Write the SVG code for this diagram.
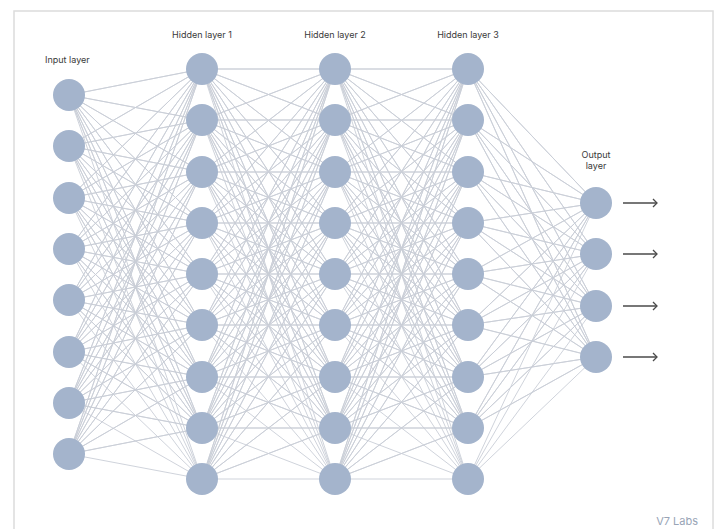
<svg xmlns="http://www.w3.org/2000/svg" xmlns:xlink="http://www.w3.org/1999/xlink" width="721" height="529" viewBox="0 0 721 529">
<style>
.lbl{font-family:Inter,"Liberation Sans",sans-serif;font-size:9px;fill:#3a3a3a}
.conn{fill:none;stroke:#c9ced7;stroke-width:0.9}
.node{fill:#a4b4cc}
.arr{stroke:#4a4a4a;stroke-width:1.3;fill:none}
</style>
<defs>
<marker id="ah" viewBox="0 0 10 10" refX="9" refY="5" markerWidth="10" markerHeight="10" orient="auto" markerUnits="userSpaceOnUse">
<polyline points="5,1 9,5 5,9" fill="none" stroke="#4a4a4a" stroke-width="1.3"/>
</marker>
<path id="hh" class="conn" d="M202 69L335 69 202 69 335 120 202 69 335 172 202 69 335 223 202 69 335 274 202 69 335 325 202 69 335 377 202 69 335 428 202 69 335 479
M202 120L335 69 202 120 335 120 202 120 335 172 202 120 335 223 202 120 335 274 202 120 335 325 202 120 335 377 202 120 335 428 202 120 335 479
M202 172L335 69 202 172 335 120 202 172 335 172 202 172 335 223 202 172 335 274 202 172 335 325 202 172 335 377 202 172 335 428 202 172 335 479
M202 223L335 69 202 223 335 120 202 223 335 172 202 223 335 223 202 223 335 274 202 223 335 325 202 223 335 377 202 223 335 428 202 223 335 479
M202 274L335 69 202 274 335 120 202 274 335 172 202 274 335 223 202 274 335 274 202 274 335 325 202 274 335 377 202 274 335 428 202 274 335 479
M202 325L335 69 202 325 335 120 202 325 335 172 202 325 335 223 202 325 335 274 202 325 335 325 202 325 335 377 202 325 335 428 202 325 335 479
M202 377L335 69 202 377 335 120 202 377 335 172 202 377 335 223 202 377 335 274 202 377 335 325 202 377 335 377 202 377 335 428 202 377 335 479
M202 428L335 69 202 428 335 120 202 428 335 172 202 428 335 223 202 428 335 274 202 428 335 325 202 428 335 377 202 428 335 428 202 428 335 479
M202 479L335 69 202 479 335 120 202 479 335 172 202 479 335 223 202 479 335 274 202 479 335 325 202 479 335 377 202 479 335 428 202 479 335 479"/>
</defs>
<rect x="14" y="11" width="699" height="540" fill="#ffffff" stroke="#dcdcdc" stroke-width="1.5"/>
<g id="connectors">
<path class="conn" d="M69 95L202 69 69 95 202 120 69 95 202 172 69 95 202 223 69 95 202 274 69 95 202 325 69 95 202 377 69 95 202 428 69 95 202 479
M69 146L202 69 69 146 202 120 69 146 202 172 69 146 202 223 69 146 202 274 69 146 202 325 69 146 202 377 69 146 202 428 69 146 202 479
M69 198L202 69 69 198 202 120 69 198 202 172 69 198 202 223 69 198 202 274 69 198 202 325 69 198 202 377 69 198 202 428 69 198 202 479
M69 249L202 69 69 249 202 120 69 249 202 172 69 249 202 223 69 249 202 274 69 249 202 325 69 249 202 377 69 249 202 428 69 249 202 479
M69 300L202 69 69 300 202 120 69 300 202 172 69 300 202 223 69 300 202 274 69 300 202 325 69 300 202 377 69 300 202 428 69 300 202 479
M69 352L202 69 69 352 202 120 69 352 202 172 69 352 202 223 69 352 202 274 69 352 202 325 69 352 202 377 69 352 202 428 69 352 202 479
M69 403L202 69 69 403 202 120 69 403 202 172 69 403 202 223 69 403 202 274 69 403 202 325 69 403 202 377 69 403 202 428 69 403 202 479
M69 454L202 69 69 454 202 120 69 454 202 172 69 454 202 223 69 454 202 274 69 454 202 325 69 454 202 377 69 454 202 428 69 454 202 479"/>
<use xlink:href="#hh" href="#hh"/>
<use xlink:href="#hh" href="#hh" transform="translate(133,0)"/>
<path class="conn" d="M596 203L468 69 596 203 468 120 596 203 468 172 596 203 468 223 596 203 468 274 596 203 468 325 596 203 468 377 596 203 468 428 596 203 468 479
M596 254L468 69 596 254 468 120 596 254 468 172 596 254 468 223 596 254 468 274 596 254 468 325 596 254 468 377 596 254 468 428 596 254 468 479
M596 306L468 69 596 306 468 120 596 306 468 172 596 306 468 223 596 306 468 274 596 306 468 325 596 306 468 377 596 306 468 428 596 306 468 479
M596 357L468 69 596 357 468 120 596 357 468 172 596 357 468 223 596 357 468 274 596 357 468 325 596 357 468 377 596 357 468 428 596 357 468 479"/>
<line class="arr" x1="623" y1="203" x2="657" y2="203" marker-end="url(#ah)"/>
<line class="arr" x1="623" y1="254" x2="657" y2="254" marker-end="url(#ah)"/>
<line class="arr" x1="623" y1="306" x2="657" y2="306" marker-end="url(#ah)"/>
<line class="arr" x1="623" y1="357" x2="657" y2="357" marker-end="url(#ah)"/>
</g>
<g id="input-layer">
<text class="lbl" x="45" y="63">Input layer</text>
<circle class="node" cx="69" cy="95" r="16"/>
<circle class="node" cx="69" cy="146" r="16"/>
<circle class="node" cx="69" cy="198" r="16"/>
<circle class="node" cx="69" cy="249" r="16"/>
<circle class="node" cx="69" cy="300" r="16"/>
<circle class="node" cx="69" cy="352" r="16"/>
<circle class="node" cx="69" cy="403" r="16"/>
<circle class="node" cx="69" cy="454" r="16"/>
</g>
<g id="hidden-layer-1">
<text class="lbl" x="202" y="38" text-anchor="middle">Hidden layer 1</text>
<circle class="node" cx="202" cy="69" r="16"/>
<circle class="node" cx="202" cy="120" r="16"/>
<circle class="node" cx="202" cy="172" r="16"/>
<circle class="node" cx="202" cy="223" r="16"/>
<circle class="node" cx="202" cy="274" r="16"/>
<circle class="node" cx="202" cy="325" r="16"/>
<circle class="node" cx="202" cy="377" r="16"/>
<circle class="node" cx="202" cy="428" r="16"/>
<circle class="node" cx="202" cy="479" r="16"/>
</g>
<g id="hidden-layer-2">
<text class="lbl" x="335" y="38" text-anchor="middle">Hidden layer 2</text>
<circle class="node" cx="335" cy="69" r="16"/>
<circle class="node" cx="335" cy="120" r="16"/>
<circle class="node" cx="335" cy="172" r="16"/>
<circle class="node" cx="335" cy="223" r="16"/>
<circle class="node" cx="335" cy="274" r="16"/>
<circle class="node" cx="335" cy="325" r="16"/>
<circle class="node" cx="335" cy="377" r="16"/>
<circle class="node" cx="335" cy="428" r="16"/>
<circle class="node" cx="335" cy="479" r="16"/>
</g>
<g id="hidden-layer-3">
<text class="lbl" x="468" y="38" text-anchor="middle">Hidden layer 3</text>
<circle class="node" cx="468" cy="69" r="16"/>
<circle class="node" cx="468" cy="120" r="16"/>
<circle class="node" cx="468" cy="172" r="16"/>
<circle class="node" cx="468" cy="223" r="16"/>
<circle class="node" cx="468" cy="274" r="16"/>
<circle class="node" cx="468" cy="325" r="16"/>
<circle class="node" cx="468" cy="377" r="16"/>
<circle class="node" cx="468" cy="428" r="16"/>
<circle class="node" cx="468" cy="479" r="16"/>
</g>
<g id="output-layer">
<text class="lbl" x="596" y="158" text-anchor="middle" font-size="8.5">Output</text>
<text class="lbl" x="596" y="169" text-anchor="middle" font-size="8.5">layer</text>
<circle class="node" cx="596" cy="203" r="16"/>
<circle class="node" cx="596" cy="254" r="16"/>
<circle class="node" cx="596" cy="306" r="16"/>
<circle class="node" cx="596" cy="357" r="16"/>
</g>
<text x="698" y="525" text-anchor="end" font-family="Inter,'Liberation Sans',sans-serif" font-size="11" fill="#98a4b6">V7 Labs</text>
</svg>
